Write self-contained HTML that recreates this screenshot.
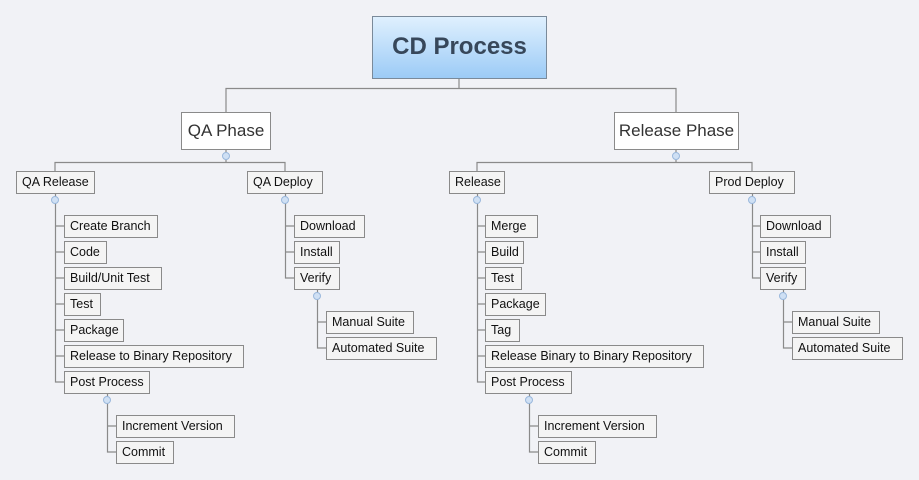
<!DOCTYPE html>
<html><head><style>
body{margin:0;width:919px;height:480px;background:#f1f2f6;position:relative;overflow:hidden;font-family:"Liberation Sans",sans-serif;}
.b{position:absolute;box-sizing:border-box;height:23px;border:1px solid #8a8a8a;background:#f4f4f4;font-size:12.5px;line-height:21px;padding-left:5px;color:#111;white-space:nowrap;}
.p{position:absolute;box-sizing:border-box;border:1px solid #8a8a8a;background:#fff;font-size:17px;color:#333;text-align:center;line-height:36px;height:38px;}
.c{position:absolute;width:8px;height:8px;border-radius:50%;background:#cfe0f4;border:1px solid #9ab8dc;box-sizing:border-box;}
svg{position:absolute;left:0;top:0}
</style></head><body>
<svg width="919" height="480" fill="none" stroke="#8a8a8a" stroke-width="1.2">
<path d="M459 78V88.5H226V112M459 88.5H676V112"/>
<path d="M226 149V162.5M55 171V162.5H285V171"/>
<path d="M676 149V162.5M477 171V162.5H752V171"/>
<path d="M55.5 193V382H64M55.5 226H64M55.5 252H64M55.5 278H64M55.5 304H64M55.5 330H64M55.5 356H64"/>
<path d="M107.5 393V452H116M107.5 426H116"/>
<path d="M285.5 193V278H294M285.5 226H294M285.5 252H294"/>
<path d="M317.5 289V348H326M317.5 322H326"/>
<path d="M477.5 193V382H485M477.5 226H485M477.5 252H485M477.5 278H485M477.5 304H485M477.5 330H485M477.5 356H485"/>
<path d="M529.5 393V452H538M529.5 426H538"/>
<path d="M752.5 193V278H760M752.5 226H760M752.5 252H760"/>
<path d="M783.5 289V348H792M783.5 322H792"/>
</svg>
<div style="position:absolute;left:372px;top:16px;width:175px;height:63px;box-sizing:border-box;border:1px solid #7a8a9a;background:linear-gradient(#dff0fe,#9ccbf6);text-align:center;line-height:60px;font-size:24px;font-weight:bold;color:#37475a;">CD Process</div>
<div class="p" style="left:181px;top:112px;width:90px">QA Phase</div>
<div class="p" style="left:614px;top:112px;width:125px">Release Phase</div>
<div class="c" style="left:222px;top:152px"></div>
<div class="c" style="left:672px;top:152px"></div>
<div class="b" style="left:16px;top:171px;width:79px">QA Release</div>
<div class="b" style="left:247px;top:171px;width:76px">QA Deploy</div>
<div class="b" style="left:449px;top:171px;width:56px">Release</div>
<div class="b" style="left:709px;top:171px;width:86px">Prod Deploy</div>
<div class="c" style="left:51px;top:196px"></div>
<div class="c" style="left:281px;top:196px"></div>
<div class="c" style="left:473px;top:196px"></div>
<div class="c" style="left:748px;top:196px"></div>
<div class="b" style="left:64px;top:215px;width:94px">Create Branch</div>
<div class="b" style="left:64px;top:241px;width:43px">Code</div>
<div class="b" style="left:64px;top:267px;width:98px">Build/Unit Test</div>
<div class="b" style="left:64px;top:293px;width:37px">Test</div>
<div class="b" style="left:64px;top:319px;width:60px">Package</div>
<div class="b" style="left:64px;top:345px;width:180px">Release to Binary Repository</div>
<div class="b" style="left:64px;top:371px;width:86px">Post Process</div>
<div class="c" style="left:103px;top:396px"></div>
<div class="b" style="left:116px;top:415px;width:119px">Increment Version</div>
<div class="b" style="left:116px;top:441px;width:58px">Commit</div>
<div class="b" style="left:294px;top:215px;width:71px">Download</div>
<div class="b" style="left:294px;top:241px;width:46px">Install</div>
<div class="b" style="left:294px;top:267px;width:46px">Verify</div>
<div class="c" style="left:313px;top:292px"></div>
<div class="b" style="left:326px;top:311px;width:88px">Manual Suite</div>
<div class="b" style="left:326px;top:337px;width:111px">Automated Suite</div>
<div class="b" style="left:485px;top:215px;width:53px">Merge</div>
<div class="b" style="left:485px;top:241px;width:39px">Build</div>
<div class="b" style="left:485px;top:267px;width:37px">Test</div>
<div class="b" style="left:485px;top:293px;width:61px">Package</div>
<div class="b" style="left:485px;top:319px;width:35px">Tag</div>
<div class="b" style="left:485px;top:345px;width:219px">Release Binary to Binary Repository</div>
<div class="b" style="left:485px;top:371px;width:87px">Post Process</div>
<div class="c" style="left:525px;top:396px"></div>
<div class="b" style="left:538px;top:415px;width:119px">Increment Version</div>
<div class="b" style="left:538px;top:441px;width:58px">Commit</div>
<div class="b" style="left:760px;top:215px;width:71px">Download</div>
<div class="b" style="left:760px;top:241px;width:46px">Install</div>
<div class="b" style="left:760px;top:267px;width:46px">Verify</div>
<div class="c" style="left:779px;top:292px"></div>
<div class="b" style="left:792px;top:311px;width:88px">Manual Suite</div>
<div class="b" style="left:792px;top:337px;width:111px">Automated Suite</div>
</body></html>
